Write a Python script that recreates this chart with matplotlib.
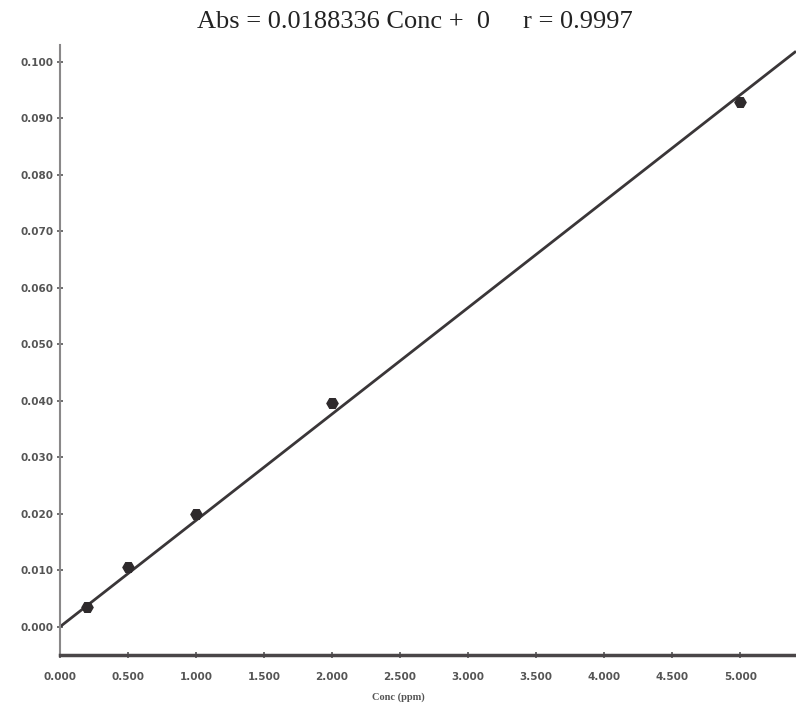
import matplotlib
matplotlib.use("Agg")
import matplotlib.pyplot as plt
import numpy as np

# Data
conc = [0.2, 0.5, 1.0, 2.0, 5.0]
absorb = [0.0035, 0.0106, 0.0200, 0.0396, 0.0929]
slope = 0.0188336
intercept = 0.0
x_ticks = [0.0, 0.5, 1.0, 1.5, 2.0, 2.5, 3.0, 3.5, 4.0, 4.5, 5.0]
x_ticklabels = ["0.000", "0.500", "1.000", "1.500", "2.000", "2.500",
                "3.000", "3.500", "4.000", "4.500", "5.000"]
y_ticks = [0.0, 0.01, 0.02, 0.03, 0.04, 0.05, 0.06, 0.07, 0.08, 0.09, 0.10]
y_ticklabels = ["0.000", "0.010", "0.020", "0.030", "0.040", "0.050",
                "0.060", "0.070", "0.080", "0.090", "0.100"]
title = "Abs = 0.0188336 Conc +  0     r = 0.9997"
xlabel = "Conc (ppm)"

fig = plt.figure(figsize=(7.96, 7.13), dpi=100)
ax = fig.add_axes([60/796, 1 - 655/713, 1 - 60/796, (655 - 45)/713])

xmax = 5.41
ax.set_xlim(0, xmax)
ax.set_ylim(-0.0050, 0.1030)

line_x = np.array([0, xmax])
ax.plot(line_x, slope * line_x + intercept, color="#3a3638", lw=2.0,
        solid_capstyle="butt", zorder=2)
ax.plot(conc, absorb, "H", color="#2e2a2c", ms=8, zorder=3)

ax.spines["top"].set_visible(False)
ax.spines["right"].set_visible(False)
ax.spines["left"].set_color("#8a8889")
ax.spines["left"].set_linewidth(1.5)
ax.spines["bottom"].set_color("#4a4648")
ax.spines["bottom"].set_linewidth(2.5)

ax.set_xticks(x_ticks)
ax.set_xticklabels(x_ticklabels)
ax.set_yticks(y_ticks)
ax.set_yticklabels(y_ticklabels)
ax.tick_params(axis="both", direction="inout", length=5, width=1.2,
               color="#555555", labelsize=7.5, labelcolor="#555555")
ax.tick_params(axis="x", pad=10)
ax.tick_params(axis="y", pad=2)
for lbl in ax.get_xticklabels() + ax.get_yticklabels():
    lbl.set_fontweight("bold")

fig.text(415/796, 1 - 22/713, title, ha="center", va="center",
         fontsize=19, family="Liberation Serif", color="#222222")
fig.text(398/796, 1 - 697/713, xlabel, ha="center", va="center",
         fontsize=7.5, family="Liberation Serif", color="#555555",
         fontweight="bold")

fig.savefig("out.png", dpi=100, facecolor="white")
